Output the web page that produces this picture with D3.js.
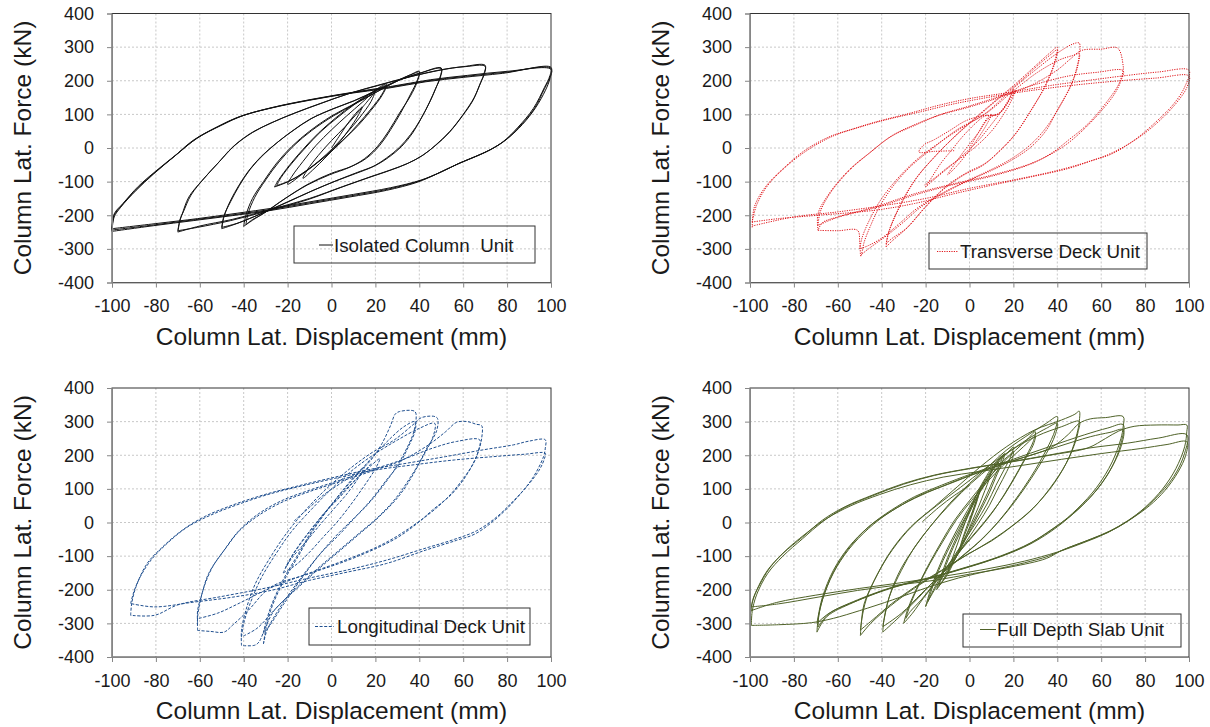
<!DOCTYPE html>
<html>
<head>
<meta charset="utf-8">
<script src="https://cdn.jsdelivr.net/npm/d3@7"></script>
<style>
  body { margin: 0; background: #fff; }
  svg { display: block; font-family: "Liberation Sans", Arial, sans-serif; }
</style>
</head>
<body>
<svg id="chart" width="1210" height="727"></svg>
<script>
// Axis ticks and titles
const xTicks = [-100, -80, -60, -40, -20, 0, 20, 40, 60, 80, 100];
const yTicks = [-400, -300, -200, -100, 0, 100, 200, 300, 400];
const xTitle = 'Column Lat. Displacement (mm)';
const yTitle = 'Column Lat. Force (kN)';
const seriesNames = ['Isolated Column  Unit', 'Transverse Deck Unit', 'Longitudinal Deck Unit', 'Full Depth Slab Unit'];

// Each unit = list of loading cycles, each cycle = [displacement (mm), force (kN)] points
const isolatedColumn = [
  [[0,0],[4,40],[8,78],[12,110],[14,122],[12,95],[8,55],[3,12],[-3,-30],[-8,-62],[-13,-90],[-11,-65],[-6,-22],[0,22],[6,62],[11,98],[15,128]],
  [[15,128],[19,160],[20,170],[18,138],[13,92],[7,45],[1,2],[-6,-40],[-13,-76],[-20,-108],[-18,-84],[-13,-40],[-7,8],[0,54],[7,96],[14,136],[20,172]],
  [[-26,-116],[-24,-94],[-19,-50],[-13,-4],[-6,44],[2,90],[10,130],[18,164],[25,190],[23,160],[18,116],[12,70],[6,28],[0,-10],[-7,-46],[-13,-74],[-19,-98],[-26,-116]],
  [[-25,-112],[-23,-88],[-18,-45],[-12,0],[-5,48],[3,92],[11,132],[19,166],[25,186],[23,156],[18,112],[12,66],[5,22],[-1,-14],[-8,-52],[-14,-80],[-20,-100],[-25,-112]],
  [[-40,-233],[-39,-200],[-36,-150],[-31,-100],[-25,-45],[-18,5],[-10,50],[0,95],[10,130],[20,165],[30,200],[36,218],[40,228],[39,200],[36,160],[32,110],[27,55],[22,8],[16,-30],[9,-55],[0,-75],[-10,-105],[-20,-145],[-30,-190],[-36,-215],[-40,-233]],
  [[-39,-228],[-38,-195],[-35,-147],[-30,-95],[-24,-42],[-17,8],[-9,52],[1,96],[11,132],[21,168],[31,203],[37,220],[40,226],[39,196],[36,155],[31,104],[26,50],[21,5],[15,-32],[8,-58],[-1,-80],[-11,-110],[-21,-150],[-31,-195],[-36,-213],[-39,-228]],
  [[-50,-240],[-49,-205],[-47,-170],[-43,-120],[-38,-70],[-32,-25],[-25,15],[-18,50],[-10,85],[0,115],[10,140],[20,170],[30,200],[40,222],[50,238],[49.5,212],[48,185],[45,140],[41,90],[37,45],[32,5],[26,-28],[20,-52],[12,-72],[3,-95],[-8,-125],[-20,-160],[-32,-195],[-42,-222],[-50,-240]],
  [[-50,-236],[-49,-202],[-46,-160],[-42,-112],[-37,-63],[-31,-20],[-24,20],[-17,54],[-9,88],[1,117],[11,142],[21,172],[31,202],[41,224],[50,236],[49.5,208],[47.5,178],[44.5,134],[40.5,84],[36,40],[31,2],[25,-30],[19,-55],[11,-76],[2,-98],[-9,-128],[-21,-164],[-33,-198],[-43,-224],[-50,-236]],
  [[-70,-250],[-69,-215],[-68,-196],[-65,-146],[-59,-97],[-52,-47],[-45,3],[-37,43],[-28,73],[-17,103],[-5,132],[8,162],[22,187],[36,212],[50,232],[60,242],[70,246],[69.5,222],[68,195],[65,150],[60,100],[54,50],[48,12],[42,-20],[35,-45],[27,-65],[18,-85],[5,-115],[-10,-150],[-28,-183],[-45,-212],[-60,-232],[-70,-250]],
  [[-70,-246],[-69,-212],[-67.5,-190],[-64,-140],[-58,-90],[-51,-40],[-44,8],[-36,46],[-27,76],[-16,106],[-4,135],[9,164],[23,190],[37,214],[51,234],[61,242],[70,243],[69.5,218],[67.5,188],[64.5,142],[59.5,94],[53.5,45],[47.5,8],[41,-24],[34,-48],[26,-68],[17,-88],[4,-118],[-11,-154],[-29,-187],[-46,-216],[-61,-236],[-70,-246]],
  [[-100,-248],[-99,-205],[-96,-176],[-89,-126],[-81,-77],[-72,-27],[-63,23],[-52,63],[-42,93],[-28,118],[-10,142],[8,162],[25,177],[43,197],[60,210],[78,222],[100,240],[99.5,215],[97,180],[92,118],[85,62],[78,18],[71,-10],[64,-30],[57,-49],[48,-77],[39,-102],[25,-126],[8,-146],[-10,-166],[-28,-186],[-45,-201],[-63,-216],[-81,-231],[-100,-248]],
  [[-100,-244],[-99,-200],[-95.5,-170],[-88.5,-120],[-80,-70],[-71,-22],[-62,26],[-51,66],[-41,95],[-27,120],[-9,144],[9,164],[26,180],[44,200],[61,213],[79,225],[100,237],[99.5,210],[97,176],[92.5,118],[86,66],[79,22],[72,-6],[65,-27],[58,-46],[49,-74],[40,-98],[26,-122],[9,-142],[-9,-162],[-27,-182],[-44,-198],[-62,-213],[-80,-228],[-100,-244]],
  [[-100,-240],[-99,-196],[-95,-165],[-88,-114],[-79,-63],[-70,-16],[-61,30],[-50,68],[-40,97],[-26,122],[-8,146],[10,166],[27,183],[45,203],[62,216],[80,228],[100,234],[99.5,206],[97.5,172],[93,120],[87,70],[80,27],[73,-3],[66,-24],[59,-43],[50,-71],[41,-95],[27,-118],[10,-138],[-8,-158],[-26,-178],[-43,-194],[-61,-210],[-79,-224],[-100,-240]]
];

const transverseDeck = [
  [[0,0],[4,45],[8,88],[10,100],[8,72],[4,30],[-1,-15],[-6,-55],[-10,-80],[-7,-50],[-2,-5],[4,45],[9,90],[13,100]],
  [[-20,-116],[-17,-85],[-13,-45],[-8,-5],[-3,35],[3,75],[7,95],[13,100],[17,130],[20,176],[18,145],[14,105],[9,62],[4,22],[-2,-15],[-8,-50],[-14,-82],[-20,-116]],
  [[-7,-8],[-16,-10],[-23,-12],[-21,8],[-16,25],[-9,52],[-2,80],[5,95],[13,102],[18,140],[21,172],[19,140],[15,95],[10,50],[3,5],[-4,-30],[-10,-58],[-16,-90],[-21,-112]],
  [[-38,-294],[-37,-254],[-32,-175],[-25,-96],[-16,-27],[-7,33],[3,92],[12,142],[21,191],[31,250],[37,285],[40,300],[39,262],[35,191],[28,112],[21,43],[14,-7],[7,-46],[-2,-76],[-11,-116],[-20,-175],[-28,-235],[-35,-275],[-38,-294]],
  [[-38,-285],[-36.5,-245],[-31,-165],[-24,-88],[-15,-20],[-6,38],[4,95],[13,145],[22,192],[31,245],[37,278],[40,292],[39,255],[34.5,185],[27.5,106],[20.5,38],[13.5,-10],[6.5,-50],[-3,-82],[-12,-124],[-21,-182],[-29,-240],[-35.5,-270],[-38,-285]],
  [[-69,-245],[-60,-246],[-51,-245],[-50,-280],[-49.5,-322],[-48,-280],[-45,-230],[-41,-175],[-35,-115],[-27,-56],[-16,3],[-6,53],[7,102],[19,172],[30,232],[40,282],[47,309],[50,312],[50,277],[49,242],[46,182],[40,113],[35,53],[28,3],[19,-37],[10,-67],[0,-96],[-12,-135],[-22,-175],[-30,-220],[-38,-262],[-45,-295],[-49.5,-318]],
  [[-50,-300],[-49,-268],[-46,-220],[-41,-160],[-34,-100],[-25,-40],[-15,10],[-4,58],[8,105],[20,170],[31,225],[41,262],[47,275],[50,280],[49.5,250],[48,215],[44,158],[39,100],[33,45],[26,0],[17,-40],[8,-70],[-2,-100],[-14,-140],[-24,-180],[-32,-225],[-40,-268],[-46,-290],[-50,-300]],
  [[-69,-245],[-69,-195],[-64,-136],[-55,-66],[-46,-17],[-36,33],[-25,67],[-14,97],[0,122],[14,151],[28,186],[40,232],[46,265],[51,290],[60,294],[67.5,297],[70,245],[70,231],[68,190],[63,141],[54,72],[45,23],[37,-17],[28,-46],[10,-81],[-7,-106],[-25,-136],[-43,-175],[-60,-205],[-67,-222],[-69,-245]],
  [[-69,-230],[-68,-190],[-63,-130],[-54,-62],[-45,-12],[-35,38],[-24,72],[-13,100],[0,125],[14,154],[28,185],[45,214],[58,225],[70,230],[69,200],[66,160],[60,110],[52,55],[44,10],[36,-22],[27,-50],[10,-84],[-8,-110],[-25,-140],[-43,-178],[-60,-206],[-69,-230]],
  [[-99,-236],[-98,-175],[-93,-116],[-84,-56],[-75,-7],[-64,33],[-53,57],[-43,77],[-28,102],[-14,127],[0,147],[19,166],[37,186],[54,201],[72,216],[86,226],[100,231],[98,181],[93,131],[84,72],[75,23],[65,-17],[56,-37],[45,-61],[28,-86],[10,-111],[-7,-136],[-25,-165],[-43,-185],[-69,-200],[-87,-210],[-99,-220]],
  [[-99,-220],[-97,-170],[-92,-112],[-83,-52],[-73,-3],[-62,36],[-50,62],[-38,84],[-22,108],[-8,130],[8,150],[25,168],[45,185],[65,198],[85,208],[100,214],[99,180],[95,140],[88,90],[80,45],[72,10],[63,-20],[52,-45],[38,-70],[20,-95],[0,-120],[-20,-150],[-40,-172],[-60,-190],[-80,-205],[-99,-232]]
];

const longitudinalDeck = [
  [[-17,5],[-10,45],[-3,85],[5,120],[12,150],[15,165],[12,130],[7,85],[1,40],[-5,-5],[-12,-60],[-18,-105],[-21,-135],[-18,-100],[-12,-45],[-5,15],[3,70],[10,120],[16,160],[18,175]],
  [[-22,-150],[-19,-110],[-14,-60],[-8,-10],[-1,45],[6,95],[13,140],[19,175],[22,190],[20,160],[15,110],[9,55],[3,5],[-4,-45],[-11,-95],[-17,-130],[-22,-150]],
  [[-31,-361],[-30,-321],[-27.7,-261],[-22.4,-182],[-15.3,-102],[-8.3,-23],[0.5,57],[9,126],[18,186],[23,235],[27,290],[29,322],[31,330],[38,330],[38.5,300],[38,270],[35,225],[31,175],[25,126],[18,67],[11,17],[4,-33],[-5,-92],[-13.6,-162],[-22.4,-242],[-29.4,-321],[-31,-361]],
  [[-31,-330],[-30,-300],[-27,-240],[-22,-170],[-15,-92],[-8,-15],[1,62],[10,130],[18,190],[26,245],[33,285],[38,300],[37.5,270],[35,230],[30,170],[23,105],[16,50],[9,5],[2,-40],[-6,-100],[-14,-170],[-22,-245],[-28,-305],[-31,-330]],
  [[-41,-366],[-41,-321],[-39,-261],[-34.7,-182],[-27.7,-102],[-20.6,-33],[-11.8,37],[-3,96],[7.6,156],[18,206],[28.7,246],[37,290],[41,312],[48,312],[48,275],[43,216],[37.5,146],[30.5,77],[21.7,17],[12.9,-33],[4,-83],[-4.8,-132],[-15,-192],[-26,-261],[-30,-310],[-33,-355],[-35,-365],[-41,-366]],
  [[-41,-340],[-40,-300],[-37,-240],[-32,-165],[-25,-90],[-18,-25],[-9,40],[0,100],[10,158],[20,205],[30,245],[40,280],[47,295],[46.5,260],[42,200],[36,135],[29,70],[21,15],[12,-35],[3,-85],[-6,-135],[-16,-195],[-26,-260],[-34,-315],[-41,-340]],
  [[-61,-321],[-61,-281],[-60,-240],[-58,-190],[-54,-130],[-48,-75],[-42,-25],[-33,22],[-22,62],[-10,92],[4,122],[18,152],[32,185],[44,230],[52,270],[57,298],[62,300],[66,292],[68.4,288],[68.4,250],[66.6,206],[62,146],[55,86],[46,37],[39,-3],[30.5,-43],[21.7,-73],[7.6,-112],[-10,-152],[-27.6,-192],[-38,-262],[-45,-305],[-49,-326],[-55,-324],[-61,-321]],
  [[-61,-300],[-61,-262],[-59,-212],[-56,-152],[-49,-83],[-42,-23],[-33,27],[-22,67],[-10,96],[4,126],[18,156],[32,186],[46,221],[57,241],[67.5,246],[67,215],[65,180],[60,130],[53,75],[45,28],[37,-10],[28,-48],[19,-78],[5,-115],[-12,-155],[-28,-195],[-42,-240],[-52,-270],[-61,-286]],
  [[-91.5,-276],[-91,-240],[-89,-190],[-84,-122],[-77,-73],[-68,-23],[-58,17],[-45,52],[-31,82],[-17,106],[-1,131],[16,156],[34,176],[52,196],[69,216],[83,231],[90,242],[97.4,246],[97.4,221],[96.6,196],[92,136],[85,77],[76,17],[65.7,-33],[57,-53],[43,-82],[25,-122],[7.6,-147],[-10,-172],[-27.6,-202],[-45,-222],[-63,-237],[-80.6,-251],[-91.5,-241]],
  [[-91.5,-241],[-90,-205],[-87,-160],[-82,-110],[-75,-63],[-66,-15],[-55,22],[-42,55],[-28,85],[-14,108],[2,132],[20,156],[38,172],[56,186],[74,196],[88,203],[97.4,206],[97,190],[95,160],[90,115],[83,65],[75,15],[66,-25],[56,-50],[42,-78],[25,-112],[8,-140],[-10,-165],[-30,-195],[-50,-220],[-70,-245],[-80.6,-276],[-91.5,-276]]
];

const fullDepthSlab = [
  [[0,0],[2,45],[5,100],[3,60],[0,10],[-3,-45],[-5,-90],[-3,-50],[0,0],[3,55],[5,100]],
  [[-10,-150],[-8,-110],[-5,-55],[-2,0],[1,50],[4,95],[7,130],[10,160],[9,130],[7,95],[4,45],[1,0],[-2,-45],[-5,-90],[-8,-125],[-10,-150]],
  [[-15,-200],[-13,-160],[-10,-105],[-6,-45],[-2,10],[2,65],[6,115],[10,155],[13,185],[15,200],[14,175],[11,130],[8,85],[4,30],[0,-20],[-4,-70],[-8,-120],[-11,-160],[-15,-200]],
  [[-14,-190],[-12,-150],[-9,-98],[-5,-40],[-1,15],[3,70],[7,118],[11,160],[14,190],[16,205],[15,180],[12,135],[9,88],[5,35],[1,-15],[-3,-65],[-7,-115],[-10,-155],[-14,-190]],
  [[-20,-250],[-18,-205],[-15,-150],[-11,-90],[-6,-25],[-1,35],[4,90],[9,140],[14,185],[18,212],[20,225],[19,200],[16,160],[12,110],[8,55],[3,0],[-2,-50],[-7,-100],[-12,-150],[-16,-195],[-20,-250]],
  [[-19,-235],[-17,-195],[-14,-142],[-10,-85],[-5,-22],[0,38],[5,92],[10,142],[15,182],[19,205],[20,212],[19.5,190],[17,152],[13,102],[9,50],[4,-3],[-1,-52],[-6,-102],[-11,-150],[-15,-190],[-19,-235]],
  [[-30,-300],[-28,-255],[-24,-195],[-19,-130],[-13,-60],[-7,5],[0,65],[7,120],[14,170],[21,215],[26,245],[30,270],[29,240],[26,200],[21,140],[16,85],[11,35],[5,-15],[-1,-60],[-8,-115],[-15,-175],[-21,-225],[-26,-270],[-30,-300]],
  [[-29,-285],[-27,-245],[-23,-185],[-18,-122],[-12,-55],[-6,8],[1,66],[8,120],[15,168],[22,210],[27,240],[30,258],[29,230],[25.5,190],[20.5,132],[15.5,78],[10,28],[4,-20],[-2,-65],[-9,-120],[-16,-180],[-22,-230],[-27,-265],[-29,-285]],
  [[-39.5,-326],[-39,-291],[-36.6,-222],[-31,-142],[-25,-73],[-18,-13],[-9,57],[0,116],[8.5,166],[17,216],[28,266],[35,295],[40,315],[39,275],[35,216],[28,136],[20.8,67],[13.7,7],[5,-53],[-5.6,-112],[-14.4,-162],[-23,-222],[-32,-281],[-39.5,-326]],
  [[-39.5,-310],[-38.5,-275],[-36,-210],[-31,-135],[-24,-65],[-17,-5],[-8,60],[1,118],[10,168],[19,215],[29,258],[35,280],[40,295],[39,260],[35,205],[28,130],[21,65],[14,8],[6,-48],[-4,-105],[-13,-155],[-22,-212],[-31,-270],[-39.5,-310]],
  [[-49.7,-336],[-49.3,-301],[-48,-242],[-42.6,-162],[-35.6,-83],[-26.8,-13],[-16,47],[-5.6,106],[5,166],[17,226],[29.6,275],[42,305],[48,322],[50,331],[50,300],[49,265],[45.5,196],[38.5,116],[29.6,47],[20.8,-3],[10,-53],[0,-92],[-12.7,-142],[-25,-192],[-35.6,-242],[-44.4,-291],[-49.7,-320]],
  [[-49.7,-320],[-49,-285],[-47,-228],[-42,-155],[-35,-80],[-26,-10],[-15,50],[-4,105],[7,160],[19,215],[31,258],[42,285],[50,301],[49.5,270],[48,235],[44,175],[37,105],[29,42],[20,-8],[10,-55],[-1,-95],[-13,-145],[-25,-195],[-36,-248],[-45,-300],[-49.7,-336]],
  [[-69.5,-326],[-69,-290],[-67,-230],[-62,-150],[-55,-80],[-46,-18],[-36,32],[-25,72],[-13,106],[1,142],[19,182],[37,222],[45,262],[50,295],[55,308],[62,312],[70,315],[70,285],[69,250],[65,180],[58,105],[49,40],[40,-10],[28,-60],[14,-100],[0,-130],[-16,-160],[-34,-190],[-51,-230],[-64,-270],[-69.5,-300]],
  [[-69.5,-300],[-69,-281],[-67,-222],[-62,-142],[-55,-73],[-46,-13],[-35.6,37],[-25,77],[-12.7,111],[1.4,146],[19,186],[36.6,226],[52.5,261],[63,281],[70,291],[69,236],[65,166],[58,97],[49,37],[40,-13],[28,-63],[14,-102],[0,-132],[-16,-162],[-34,-192],[-51,-232],[-64,-271],[-69,-311]],
  [[-69,-311],[-68.5,-270],[-66,-210],[-61,-135],[-54,-68],[-45,-8],[-34,40],[-23,80],[-10,113],[4,148],[22,188],[40,225],[55,255],[64,268],[70,276],[69,225],[64,155],[57,90],[48,30],[38,-18],[26,-68],[12,-106],[-2,-135],[-18,-165],[-36,-195],[-53,-238],[-65,-280],[-69.5,-326]],
  [[-99.4,-306],[-99,-265],[-97,-215],[-92,-152],[-85,-100],[-76,-48],[-67,2],[-56.7,45],[-44,80],[-30,114],[-16,140],[0,160],[19,180],[36.6,200],[54,222],[62,250],[68,272],[75,286],[85,290],[95,290],[99,290],[99,270],[98,225],[94,160],[88,100],[80,45],[72,5],[64,-25],[55,-50],[45,-75],[36,-100],[25,-120],[10,-142],[-5,-165],[-20,-195],[-35,-230],[-50,-262],[-62,-285],[-72,-298],[-87,-304],[-99.4,-306]],
  [[-99.4,-265],[-99,-240],[-97,-202],[-92,-142],[-85,-92],[-76,-43],[-67,7],[-56.7,47],[-44,82],[-30,116],[-16,141],[0,161],[19,181],[36.6,201],[54,221],[72,236],[86,251],[99,261],[98,206],[93,136],[84,67],[75,17],[65,-23],[54,-53],[42,-83],[35,-107],[19,-132],[1.4,-152],[-16,-172],[-34,-187],[-51,-202],[-69,-222],[-87,-242],[-99.4,-251]],
  [[-99.4,-251],[-98.5,-225],[-96,-190],[-91,-135],[-84,-85],[-75,-35],[-65,12],[-54,50],[-41,83],[-27,112],[-12,135],[5,152],[24,170],[42,188],[60,205],[78,220],[90,232],[99,240],[98.5,200],[95,150],[89,95],[82,50],[73,8],[63,-30],[52,-60],[40,-88],[25,-115],[8,-138],[-10,-158],[-30,-178],[-50,-196],[-70,-216],[-88,-238],[-99.4,-262]],
  [[-21.5,2],[-14,45],[-7,80],[0,110]]
];

// Layout of the four panels
const plotW = 439, plotH = 269;
const panels = [
  {data: isolatedColumn, name: seriesNames[0], left: 112, top: 13.5, color: '#111111', dash: null,
   box: [294, 226, 241, 37], sample: [319, 333], textX: 334, textY: 251.5},
  {data: transverseDeck, name: seriesNames[1], left: 750, top: 13.5, color: '#e0161b', dash: '1.2,1.2',
   box: [929, 233, 218, 36], sample: [937, 958], textX: 960, textY: 258},
  {data: longitudinalDeck, name: seriesNames[2], left: 112, top: 388, color: '#1f4f8f', dash: '3,1.6',
   box: [309, 608, 221, 37], sample: [315, 334], textX: 337, textY: 633},
  {data: fullDepthSlab, name: seriesNames[3], left: 750, top: 388, color: '#4f6228', dash: null,
   box: [963, 614, 218, 33], sample: [980, 996], textX: 997, textY: 636}
];

const svg = d3.select('#chart');

panels.forEach(p => {
  const g = svg.append('g').attr('transform', `translate(${p.left},${p.top})`);
  const x = d3.scaleLinear().domain([-100, 100]).range([0, plotW]);
  const y = d3.scaleLinear().domain([-400, 400]).range([plotH, 0]);

  // Dotted gridlines
  g.append('g')
    .selectAll('line')
    .data(xTicks.slice(1, -1))
    .enter()
    .append('line')
    .attr('x1', d => x(d)).attr('x2', d => x(d))
    .attr('y1', 0).attr('y2', plotH)
    .style('stroke', '#c8c8c8')
    .style('stroke-dasharray', '2,2');
  g.append('g')
    .selectAll('line')
    .data(yTicks.slice(1, -1))
    .enter()
    .append('line')
    .attr('x1', 0).attr('x2', plotW)
    .attr('y1', d => y(d)).attr('y2', d => y(d))
    .style('stroke', '#c8c8c8')
    .style('stroke-dasharray', '2,2');

  // Hysteresis curves
  const line = d3.line()
    .x(d => x(d[0]))
    .y(d => y(d[1]))
    .curve(d3.curveCatmullRom.alpha(0.5));
  g.append('g')
    .selectAll('path')
    .data(p.data)
    .enter()
    .append('path')
    .attr('d', line)
    .style('fill', 'none')
    .style('stroke', p.color)
    .style('stroke-width', 1)
    .style('stroke-dasharray', p.dash);

  // Plot area border
  g.append('rect')
    .attr('width', plotW).attr('height', plotH)
    .style('fill', 'none')
    .style('stroke', '#333');

  // Axes (plain hyphen minus, like the original)
  const fmt = d => String(d);
  const yAxis = g.append('g')
    .call(d3.axisLeft(y).tickValues(yTicks).tickFormat(fmt).tickSize(5).tickPadding(13));
  const xAxis = g.append('g')
    .attr('transform', `translate(0,${plotH})`)
    .call(d3.axisBottom(x).tickValues(xTicks).tickFormat(fmt).tickSize(5).tickPadding(12));
  [xAxis, yAxis].forEach(a => {
    a.select('.domain').style('stroke', '#868686');
    a.selectAll('.tick line').style('stroke', '#868686');
    a.selectAll('text')
      .style('font-family', '"Liberation Sans", Arial, sans-serif')
      .style('font-size', '18px')
      .style('fill', '#1a1a1a');
  });

  // Axis titles
  g.append('text')
    .attr('x', plotW / 2)
    .attr('y', plotH + 62)
    .attr('text-anchor', 'middle')
    .style('font-size', '24.5px')
    .style('fill', '#1a1a1a')
    .text(xTitle);
  g.append('text')
    .attr('transform', `translate(-81,${plotH / 2}) rotate(-90)`)
    .attr('text-anchor', 'middle')
    .style('font-size', '24.5px')
    .style('fill', '#1a1a1a')
    .text(yTitle);

  // Legend
  const [bx, by, bw, bh] = p.box;
  svg.append('rect')
    .attr('x', bx).attr('y', by)
    .attr('width', bw).attr('height', bh)
    .style('fill', 'none')
    .style('stroke', '#333')
    .style('stroke-width', 1);
  svg.append('line')
    .attr('x1', p.sample[0]).attr('x2', p.sample[1])
    .attr('y1', p.textY - 6.5).attr('y2', p.textY - 6.5)
    .style('stroke', p.color)
    .style('stroke-width', 1)
    .style('stroke-dasharray', p.dash);
  svg.append('text')
    .attr('x', p.textX)
    .attr('y', p.textY)
    .style('font-size', '18.8px')
    .style('fill', '#1a1a1a')
    .style('white-space', 'pre')
    .text(p.name);
});
</script>
</body>
</html>
